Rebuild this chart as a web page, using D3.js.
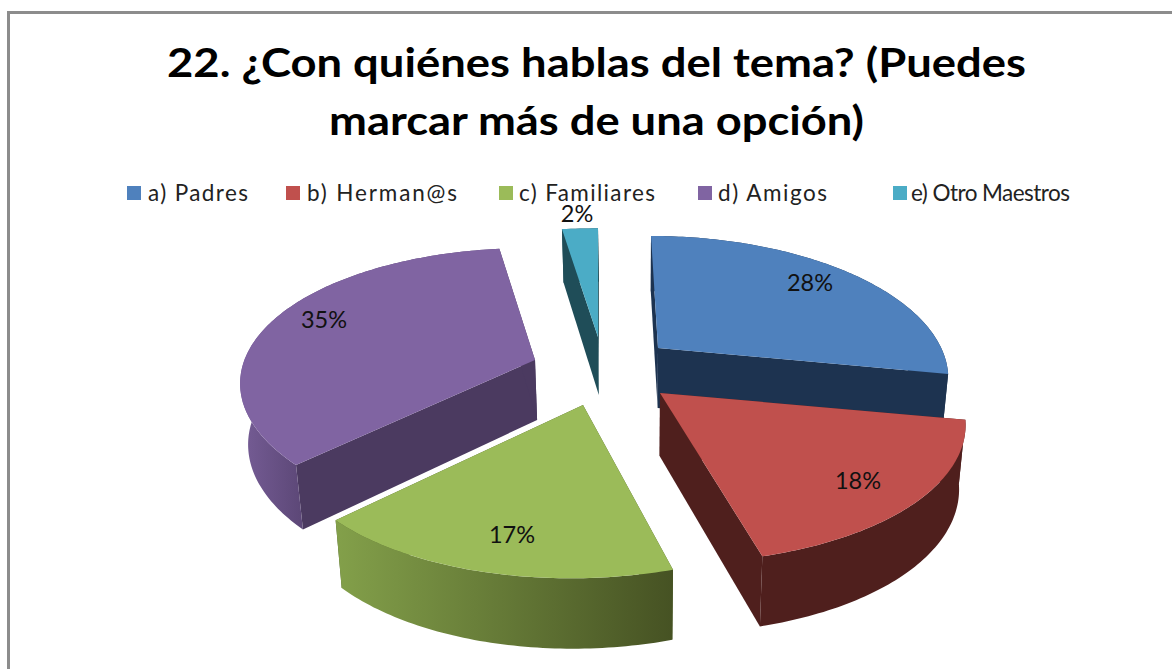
<!DOCTYPE html>
<html><head><meta charset="utf-8">
<script src="https://cdn.jsdelivr.net/npm/d3@7/dist/d3.min.js"></script>
<style>html,body{margin:0;padding:0;background:#fff;overflow:hidden}svg{display:block}text{font-family:Lato,"Open Sans",sans-serif}</style>
</head><body><svg id="c" width="1172" height="669"></svg>
<script>
const titleLines = ["22. ¿Con quiénes hablas del tema? (Puedes", "marcar más de una opción)"];
const categories = ["a) Padres", "b) Herman@s", "c) Familiares", "d) Amigos", "e) Otro Maestros"];
const values = [28, 18, 17, 35, 2];
const colors = ["#4f81bd", "#c0504d", "#9bbb59", "#8064a2", "#4bacc6"];
const edgeColors = ["#1d3350", "#4f1f1d", "#4a5a28", "#4b3a60", "#1f4d58"];

// layout only (explosion of each slice and 3D look)
const layout = [
  {ax:658, ay:348, sx:.96, sy:1,    shear:.0625, ysk:0,    d:60, label:[152,-57], wall:["#1d3350","#1d3350"]},
  {ax:660, ay:393, sx:1.01,sy:1.03, shear:.07,   ysk:0,    d:63, label:[198,96],  wall:["#4f1f1d","#4f1f1d"]},
  {ax:583, ay:405, sx:1,   sy:1.05, shear:0,     ysk:-.02, d:63, label:[-71,138], wall:["#83a04a","#465223"]},
  {ax:535, ay:360, sx:.985,sy:1,    shear:.045,  ysk:0,    d:60, label:[-211,-32],wall:["#765d96","#5d4878"]},
  {ax:598, ay:337, sx:1.16,sy:.97,  shear:0,     ysk:0,    d:58, label:[-21,-115],wall:["#1f4d58","#1f4d58"]}
];
const legendX = [127, 286, 499, 698, 893];
const legendTextX = [148, 307, 519, 718, 911];
const legendW = [100, 150, 136, 109, 159];

const R = 295, cR = 133.4, a = .191, vx = 640;
const svg = d3.select("#c");
const defs = svg.append("defs");

svg.append("path").attr("d", "M8.5 669V12.5H1172").attr("fill", "none").attr("stroke", "#8c8c8c").attr("stroke-width", 3);

const pie = d3.pie().sort(null).startAngle(0).endAngle(2 * Math.PI);
const arcs = pie(values);
const line = d3.line();

function topPoint(l, t) {
  const p = 1 / (1 + a * Math.cos(t));
  const X = R * Math.sin(t) * p * l.sx, Y = -cR * Math.cos(t) * p * l.sy;
  return [l.ax + X + l.shear * Y, l.ay + Y + l.ysk * X, p];
}
function bottomPoint(l, pt) {
  const [x, y, p] = pt;
  return [x - (x - vx) * .02, y + l.d * (1 + .5 * (p - 1))];
}
function apexPoint(l) { return [l.ax, l.ay, 1]; }

arcs.forEach((s, i) => {
  const l = layout[i];
  const n = Math.max(6, Math.round((s.endAngle - s.startAngle) * 60));
  const ts = d3.range(n + 1).map(k => d3.interpolateNumber(s.startAngle, s.endAngle)(k / n));
  const rim = ts.map(t => topPoint(l, t));
  const rimB = rim.map(q => bottomPoint(l, q));
  const A = apexPoint(l), AB = bottomPoint(l, A);
  const g = svg.append("g").attr("class", "slice");

  const xs = d3.extent(rim, q => q[0]);
  const gid = "w" + i;
  const lg = defs.append("linearGradient").attr("id", gid).attr("gradientUnits", "userSpaceOnUse")
    .attr("x1", xs[0]).attr("x2", xs[1]).attr("y1", 0).attr("y2", 0);
  lg.append("stop").attr("offset", 0).attr("stop-color", l.wall[0]);
  lg.append("stop").attr("offset", 1).attr("stop-color", l.wall[1]);
  if (i === 3) { lg.attr("x1", 240).attr("x2", 300); }

  // radial edge walls
  [[rim[0], rimB[0]], [rim[n], rimB[n]]].forEach(([o, oB]) => {
    g.append("path").attr("d", line([A, o, oB, AB]) + "Z").attr("fill", edgeColors[i]);
  });
  // outer wall
  g.append("path").attr("d", line(rim.map(q => [q[0], q[1]]).concat(rimB.slice().reverse())) + "Z").attr("fill", `url(#${gid})`);
  // top
  g.append("path").attr("d", line([[A[0], A[1]]].concat(rim.map(q => [q[0], q[1]]))) + "Z").attr("fill", colors[i]);
});

// labels
arcs.forEach((s, i) => {
  const l = layout[i];
  svg.append("text").attr("x", l.ax + l.label[0]).attr("y", l.ay + l.label[1])
    .attr("text-anchor", "middle").attr("font-size", 23.5).attr("fill", "#111")
    .text(d3.format(".0%")(s.value / d3.sum(values)));
});

// title
const titleFit = [859, 535];
titleLines.forEach((t, i) => {
  svg.append("text").attr("x", 596.5).attr("y", 77 + i * 58).attr("text-anchor", "middle")
    .attr("font-size", 41).attr("font-weight", 700).attr("fill", "#000")
    .attr("textLength", titleFit[i]).attr("lengthAdjust", "spacingAndGlyphs").text(t);
});

// legend
categories.forEach((c, i) => {
  svg.append("rect").attr("x", legendX[i]).attr("y", 186).attr("width", 14).attr("height", 14).attr("fill", colors[i]);
  svg.append("text").attr("x", legendTextX[i]).attr("y", 201).attr("font-size", 22.5).attr("fill", "#222")
    .attr("textLength", legendW[i]).attr("lengthAdjust", "spacing").text(c);
});
</script></body></html>
